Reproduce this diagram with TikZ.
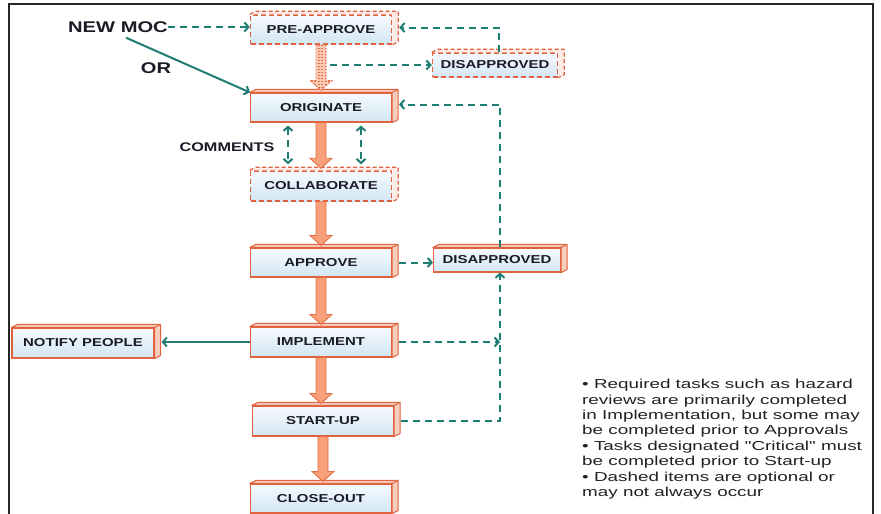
\documentclass[tikz,border=0pt]{standalone}
\usepackage{fontspec}
\setmainfont{Liberation Sans}
\newfontfamily\lblfont[FakeStretch=1.3]{Liberation Sans}
\newfontfamily\notefont[FakeStretch=1.45]{Liberation Sans}
\usetikzlibrary{calc,arrows.meta,patterns}
\definecolor{boxline}{HTML}{E0623F}
\definecolor{boxside}{HTML}{F7CDBD}
\definecolor{facetop}{HTML}{F6FAFE}
\definecolor{facebot}{HTML}{D2E6F4}
\definecolor{mocteal}{HTML}{1F7D73}
\definecolor{arrfill}{HTML}{F7A07A}
\definecolor{arrline}{HTML}{E56E45}
\definecolor{txt}{HTML}{1B1B28}
\definecolor{notetxt}{HTML}{222222}
\newcommand\blockarr[3][blockarrow]{%
  \draw[#1] let \p1=(#2.south), \p2=([yshift=2pt]#3.north) in
    (\x1-5pt,\y1) -- (\x1-5pt,\y2+10pt) -- (\x1-11pt,\y2+10pt) -- (\x1,\y2)
    -- (\x1+11pt,\y2+10pt) -- (\x1+5pt,\y2+10pt) -- (\x1+5pt,\y1) -- cycle;}
\tikzset{
  barb/.tip={Straight Barb[length=4pt,width=9pt]},
  box/.style={draw=boxline, line width=1.1pt, top color=facetop, bottom color=facebot,
    minimum width=141pt, minimum height=30pt, inner sep=0pt,
    font=\lblfont\bfseries\fontsize{11.5}{12}\selectfont, text=txt},
  dbox/.style={box, dash pattern=on 5pt off 3pt, line width=1.5pt},
  sideface/.style={draw=boxline, line width=1pt, fill=boxside, line join=round},
  dsideface/.style={sideface, dash pattern=on 4pt off 2.5pt, line width=1.3pt, fill=boxside!40},
  blockarrow/.style={draw=arrline, line width=0.9pt, fill=arrfill, line join=miter},
  stripearrow/.style={draw=arrline, line width=0.9pt, dash pattern=on 2pt off 1.5pt,
    preaction={fill=arrfill!55}, pattern=horizontal lines, pattern color=arrline},
  tealdash/.style={draw=mocteal, line width=2pt, dash pattern=on 7pt off 5pt, -barb},
  tealsolid/.style={draw=mocteal, line width=2pt, -barb},
  lbl/.style={font=\lblfont\bfseries\fontsize{15.5}{16}\selectfont, text=txt, inner sep=0pt},
  clbl/.style={font=\lblfont\bfseries\fontsize{12.5}{13}\selectfont, text=txt, inner sep=0pt},
}
\begin{document}
\begin{tikzpicture}[x=1pt,y=-1pt]
\useasboundingbox (0,0) rectangle (881,514);
\fill[white] (0,0) rectangle (881,514);
\draw[line width=1.3pt, black!85] (9,514) -- (9,4) -- (873,4) -- (873,514);

% nodes
\node[dbox, minimum height=29pt] (preapp) at (321,29.5) {PRE-APPROVE};
\node[dbox, minimum width=125pt, minimum height=24pt] (dis1) at (495,65) {DISAPPROVED};
\node[box, minimum height=29pt] (orig) at (321,107.5) {ORIGINATE};
\node[dbox] (collab) at (321,186) {COLLABORATE};
\node[box, minimum height=29pt] (appr) at (321,262.5) {APPROVE};
\node[box, minimum width=127pt, minimum height=24pt] (dis2) at (497,260) {DISAPPROVED};
\node[box, minimum width=142pt] (notify) at (83,343) {NOTIFY PEOPLE};
\node[box] (impl) at (321,342) {IMPLEMENT};
\node[box] (start) at (323,421) {START-UP};
\node[box, minimum height=29pt] (close) at (321,498.5) {CLOSE-OUT};

\node[lbl] (newmoc) at (118,27) {NEW MOC};
\node[lbl] (or) at (156,68) {OR};
\node[clbl] (comments) at (227,147) {COMMENTS};

% 3D side faces
\foreach \n in {orig,appr,impl,start,close,notify,dis2}{
  \draw[sideface] (\n.north west) -- ($(\n.north west)+(6,-3)$) -- ($(\n.north east)+(6,-3)$)
    -- ($(\n.south east)+(6,-3)$) -- (\n.south east) -- (\n.north east) -- cycle;
  \draw[sideface] (\n.north east) -- ($(\n.north east)+(6,-3)$);
}
\foreach \n in {preapp,dis1,collab}{
  \fill[boxside!40] (\n.north west) -- ($(\n.north west)+(6,-3)$) -- ($(\n.north east)+(6,-3)$)
    -- ($(\n.south east)+(6,-3)$) -- (\n.south east) -- (\n.north east) -- cycle;
  \draw[dsideface, fill=none] (\n.north west) -- ($(\n.north west)+(6,-3)$) -- ($(\n.north east)+(6,-3)$)
    -- ($(\n.south east)+(6,-3)$) -- (\n.south east);
}

% block arrows
\blockarr[stripearrow]{preapp}{orig}
\blockarr{orig}{collab}
\blockarr{collab}{appr}
\blockarr{appr}{impl}
\blockarr{impl}{start}
\blockarr{start}{close}

% teal connectors
\draw[tealdash] (newmoc.east) -- (newmoc.east -| preapp.west);
\draw[tealsolid] ([xshift=8pt,yshift=-5pt]newmoc.south) -- (orig.north west);
\draw[tealdash] ([xshift=4pt]dis1.north) |- ([xshift=7pt,yshift=2pt]preapp.east);
\coordinate (pa) at ([xshift=9pt]preapp.south);
\draw[tealdash] (pa |- dis1.west) -- (dis1.west);
\draw[tealdash] ([xshift=3pt]dis2.north) |- ([xshift=7pt,yshift=3pt]orig.east);
\draw[tealdash] ([xshift=7pt]appr.east) -- (dis2.west |- appr.east);
\draw[tealdash] ([xshift=7pt]impl.east) -- ([xshift=3pt]dis2.south |- impl.east);
\draw[tealdash] ([xshift=7pt]start.east) -| ([xshift=3pt]dis2.south);
\draw[tealsolid] (impl.west) -- ([xshift=7pt]notify.east |- impl.west);
\draw[tealdash, barb-barb] ([xshift=-33pt,yshift=-3pt]orig.south) -- ([xshift=-33pt,yshift=6pt]collab.north);
\draw[tealdash, barb-barb] ([xshift=40pt,yshift=-3pt]orig.south) -- ([xshift=40pt,yshift=6pt]collab.north);

% note
\node[anchor=north west, inner sep=0pt, align=left, text=notetxt,
  font=\notefont\fontsize{13}{15.4}\selectfont] (note) at (582,379)
  {• Required tasks such as hazard\\
   reviews are primarily completed\\
   in Implementation, but some may\\
   be completed prior to Approvals\\
   • Tasks designated "Critical" must\\
   be completed prior to Start-up\\
   • Dashed items are optional or\\
   may not always occur};
\end{tikzpicture}
\end{document}
